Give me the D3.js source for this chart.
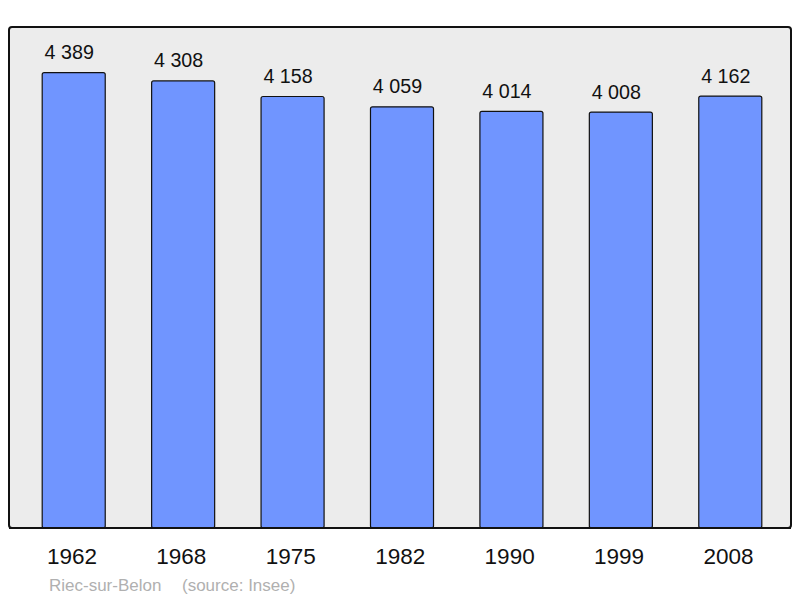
<!DOCTYPE html>
<html><head><meta charset="utf-8">
<script src="https://cdn.jsdelivr.net/npm/d3@7"></script>
<style>body{margin:0;background:#fff}svg{display:block}</style>
</head><body>
<script>
const years = ["1962","1968","1975","1982","1990","1999","2008"];
const population = [4389,4308,4158,4059,4014,4008,4162];
const commune = "Riec-sur-Belon";
const source = "(source: Insee)";

const W=800,H=598;
const svg=d3.select("body").append("svg").attr("width",W).attr("height",H);
const panel={x:9,y:27,w:782,h:501};
svg.append("rect").attr("x",panel.x).attr("y",panel.y).attr("width",panel.w).attr("height",panel.h)
  .attr("rx",3).attr("fill","#ececec").attr("stroke","#111").attr("stroke-width",2);

const x=d3.scaleBand().domain(years).range([19,785]).paddingInner(0.424).paddingOuter(0.212);
const y=d3.scaleLinear().domain([0,d3.max(population)*1.1]).range([panel.y+panel.h,panel.y]);
const fmt=v=>d3.format(",")(v).replace(/,/g," ");
const font="Liberation Sans, Arial, sans-serif";

const g=svg.append("g");
g.selectAll("rect.bar").data(years).join("rect").attr("class","bar")
  .attr("x",d=>x(d)).attr("width",x.bandwidth())
  .attr("y",(d,i)=>y(population[i])).attr("height",(d,i)=>y(0)-y(population[i]))
  .attr("rx",2).attr("fill","#7095ff").attr("stroke","#111").attr("stroke-width",1.2);
g.selectAll("text.val").data(years).join("text").attr("class","val")
  .attr("x",d=>x(d)+x.bandwidth()/2-4.5).attr("y",(d,i)=>y(population[i])-13.5)
  .attr("text-anchor","middle").attr("font-family",font)
  .attr("font-size",19.7).attr("fill","#111").text((d,i)=>fmt(population[i]));

svg.append("line").attr("x1",panel.x).attr("x2",panel.x+panel.w).attr("y1",panel.y+panel.h).attr("y2",panel.y+panel.h)
  .attr("stroke","#111").attr("stroke-width",2);

const ax=svg.append("g").attr("transform",`translate(0,${panel.y+panel.h})`)
  .call(d3.axisBottom(x).tickSize(0).tickPadding(0));
ax.select(".domain").remove();
ax.selectAll("text").attr("x",-1.8).attr("y",36).attr("dy",0).attr("font-family",font)
  .attr("font-size",22.5).attr("fill","#111");

svg.append("text").attr("x",49).attr("y",591).attr("font-family",font)
  .attr("font-size",17).attr("fill","#b0b0b0").text(commune);
svg.append("text").attr("x",182).attr("y",591).attr("font-family",font)
  .attr("font-size",17).attr("fill","#b0b0b0").text(source);
</script>
</body></html>
